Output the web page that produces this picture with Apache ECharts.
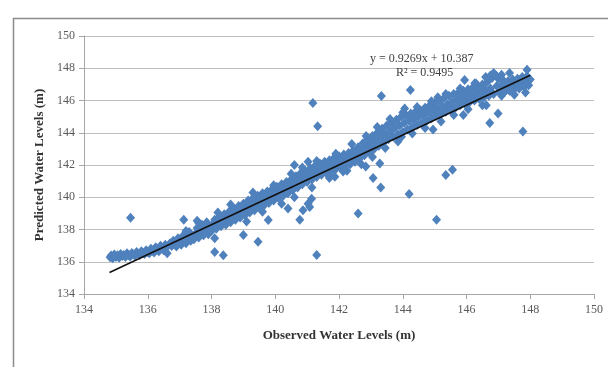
<!DOCTYPE html>
<html>
<head>
<meta charset="utf-8">
<script src="https://cdn.jsdelivr.net/npm/echarts@6/dist/echarts.min.js"></script>
<style>
  html, body { margin: 0; padding: 0; background: #fff; }
  #chart { width: 608px; height: 367px; }
</style>
</head>
<body>
<div id="chart"></div>
<script>
// observed vs predicted water levels [obs, pred]
var band1 = [[134.82,136.28],[134.85,136.38],[134.9,136.22],[134.95,136.45],[135.0,136.3],[135.05,136.4],[135.1,136.25],[135.15,136.48],[135.2,136.35],[135.25,136.42],[135.3,136.3],[135.35,136.52],[135.4,136.4],[135.45,136.33],[135.5,136.55],[135.55,136.45],[135.6,136.38],[135.65,136.6],[135.7,136.5],[135.75,136.42],[135.8,136.65],[135.85,136.55],[135.9,136.48],[135.95,136.72],[136.0,136.6],[136.05,136.52],[136.1,136.8],[136.15,136.68],[136.2,136.58],[136.25,136.9],[136.3,136.75],[136.35,136.65],[136.4,137.0],[136.45,136.85],[136.5,136.72],[136.55,137.05],[136.6,136.92],[136.7,137.15],[136.75,136.98],[136.8,137.3],[136.85,137.08],[136.9,136.95],[136.95,137.45],[137.0,137.2],[137.05,137.05],[137.1,137.6],[137.15,137.32],[137.2,137.15],[137.25,137.5],[137.3,137.85],[137.35,137.3],[137.4,137.6],[137.45,137.4],[137.5,137.75],[137.55,138.1],[137.6,137.5],[137.65,137.9],[137.7,138.3],[137.75,137.65],[137.8,138.0],[137.85,138.45],[137.9,137.7],[137.95,138.15]];
var band2 = [[138.0,137.9],[138.05,138.35],[138.1,138.6],[138.15,138.05],[138.2,138.45],[138.25,138.8],[138.3,138.2],[138.35,138.6],[138.4,138.95],[138.45,138.3],[138.5,138.75],[138.55,139.1],[138.6,138.45],[138.65,138.9],[138.7,139.3],[138.75,138.6],[138.8,139.05],[138.85,139.45],[138.9,138.75],[138.95,139.2],[139.0,139.6],[139.05,138.9],[139.1,139.35],[139.15,139.8],[139.2,139.05],[139.25,139.5],[139.3,139.95],[139.35,139.2],[139.4,139.65],[139.45,140.1],[139.5,139.35],[139.55,139.8],[139.6,140.25],[139.65,139.5],[139.7,139.95],[139.75,140.35],[139.8,139.65],[139.85,140.1],[139.9,140.5],[139.95,139.8],[140.0,140.25],[140.05,140.65],[140.1,139.95],[140.15,140.4],[140.2,140.8],[140.25,140.1],[140.3,140.55],[140.35,140.95],[140.4,140.25],[140.45,140.7],[140.5,141.1],[140.55,140.45],[140.6,140.9],[140.65,141.3],[140.7,140.6],[140.75,141.05],[140.8,141.5],[140.85,140.8],[140.9,141.25],[140.95,141.6],[141.0,140.95],[141.05,141.4],[141.1,141.8],[141.15,141.1],[141.2,141.55],[141.25,141.95],[141.3,141.25],[141.35,141.7],[141.4,142.1],[141.45,141.4],[141.5,141.85],[141.55,142.2],[141.6,141.5],[141.65,141.95],[141.7,142.3],[141.75,141.6],[141.8,142.05],[141.85,142.45],[141.9,141.75],[141.95,142.2]];
var band3 = [[142.0,142.55],[142.05,141.85],[142.1,142.3],[142.15,142.65],[142.2,141.95],[142.25,142.4],[142.3,142.75],[142.35,142.05],[142.4,142.5],[142.45,142.9],[142.5,142.2],[142.55,142.65],[142.6,143.1],[142.65,142.4],[142.7,142.85],[142.75,143.35],[142.8,142.6],[142.85,143.05],[142.9,143.6],[142.95,142.8],[143.0,143.3],[143.05,143.8],[143.1,143.0],[143.15,143.5],[143.2,144.0],[143.25,143.2],[143.3,143.7],[143.35,144.25],[143.4,143.4],[143.45,143.9],[143.5,144.45],[143.55,143.6],[143.6,144.1],[143.65,144.6],[143.7,143.75],[143.75,144.3],[143.8,144.8],[143.85,143.9],[143.9,144.45],[143.95,145.0],[144.0,144.05],[144.05,144.6],[144.1,145.1],[144.15,144.2],[144.2,144.75],[144.25,145.2],[144.3,144.35],[144.35,144.85],[144.4,145.3],[144.45,144.5],[144.5,145.0],[144.55,145.4],[144.6,144.6],[144.65,145.1],[144.7,145.55],[144.75,144.75],[144.8,145.25],[144.85,145.7],[144.9,144.9],[144.95,145.4]];
var band4 = [[145.0,145.85],[145.05,145.05],[145.1,145.5],[145.15,146.0],[145.2,145.15],[145.25,145.65],[145.3,146.15],[145.35,145.3],[145.4,145.75],[145.45,146.3],[145.5,145.45],[145.55,145.9],[145.6,146.4],[145.65,145.55],[145.7,146.05],[145.75,146.5],[145.8,145.7],[145.85,146.15],[145.9,146.6],[145.95,145.8],[146.0,146.25],[146.05,146.7],[146.1,145.9],[146.15,146.35],[146.2,146.8],[146.25,146.0],[146.3,146.45],[146.35,146.9],[146.4,146.1],[146.45,146.55],[146.5,147.0],[146.55,146.2],[146.6,146.65],[146.65,147.15],[146.7,146.3],[146.75,146.75],[146.8,147.4],[146.85,146.4],[146.9,147.6],[146.95,146.9],[147.0,147.35],[147.05,146.5],[147.1,146.95],[147.15,147.25],[147.2,146.55],[147.25,146.9],[147.3,147.2],[147.35,146.6],[147.4,147.0],[147.45,147.3],[147.5,146.7],[147.55,147.05],[147.6,147.35],[147.65,146.75],[147.7,147.1],[147.75,147.45],[147.8,146.85],[147.85,147.2],[147.9,147.5],[147.95,146.95],[148.0,147.3],[146.75,147.55],[146.85,147.7],[146.95,147.5],[147.35,147.7],[147.9,147.9],[146.7,147.3]];
// extra scattered points that roughen the band edges
var bandEdges = [[137.2,137.9],[137.55,138.55],[138.2,139.05],[138.6,139.55],[139.1,138.5],[139.3,140.3],[139.6,139.1],[139.95,140.75],[140.2,139.6],[140.5,141.45],[140.6,140.0],[140.85,141.85],[141.15,140.6],[141.3,142.25],[141.7,141.2],[141.9,142.7],[142.25,141.65],[142.4,143.3],[142.7,142.05],[142.85,143.8],[143.05,142.5],[143.2,144.35],[143.45,143.05],[143.6,144.85],[143.85,143.45],[144.0,145.25],[144.3,143.95],[144.45,145.6],[144.7,144.3],[144.9,145.95],[145.2,144.7],[145.35,146.4],[145.6,145.1],[145.8,146.75],[146.05,145.45],[146.3,147.05],[146.5,145.7],[147.1,146.3],[147.5,146.35],[147.85,146.5],[146.6,147.45],[147.1,147.6]];
var outliers = [[135.46,138.73],[136.61,136.52],[137.13,138.6],[137.6,138.4],[138.1,136.6],[138.37,136.4],[138.1,137.45],[139.0,137.66],[139.46,137.24],[139.78,138.59],[140.4,139.3],[140.77,138.6],[140.87,139.2],[141.03,139.6],[141.14,139.9],[141.08,139.4],[141.3,136.42],[140.6,142.0],[141.03,142.2],[141.33,144.4],[141.18,145.85],[141.87,141.27],[142.13,141.6],[142.6,139.0],[142.84,141.9],[143.07,141.2],[143.28,142.1],[143.31,140.6],[143.33,146.28],[144.06,145.5],[143.96,143.75],[144.2,140.2],[144.24,146.65],[144.95,144.2],[145.06,138.6],[145.1,146.2],[145.35,141.38],[145.56,141.7],[145.9,145.1],[145.94,147.27],[146.26,147.07],[146.73,144.6],[146.99,145.2],[146.62,145.7],[147.25,146.65],[147.77,144.07]];

// linear trendline from Excel
var slope = 0.9269;
var intercept = 10.387;
var r2 = 0.9495;
var trendRange = [134.8, 148.0];

var axisTicks = [134, 150, 2];

var points = band1.concat(band2, band3, band4, bandEdges, outliers);
var trend = trendRange.map(function (x) { return [x, slope * x + intercept]; });

var serif = '"Liberation Serif", "DejaVu Serif", serif';
var myChart = echarts.init(document.getElementById('chart'));
myChart.setOption({
  animation: false,
  backgroundColor: '#fff',
  grid: { left: 84, right: 14, top: 36, bottom: 73 },
  xAxis: {
    type: 'value',
    min: axisTicks[0], max: axisTicks[1], interval: axisTicks[2],
    name: 'Observed Water Levels (m)',
    nameLocation: 'middle',
    nameGap: 35,
    nameTextStyle: { fontFamily: serif, fontWeight: 'bold', fontSize: 13, color: '#333' },
    axisLine: { lineStyle: { color: '#a6a6a6', width: 1 } },
    axisTick: { show: true, inside: false, length: 5, lineStyle: { color: '#a6a6a6' } },
    axisLabel: { fontFamily: serif, fontSize: 12, color: '#595959', margin: 10 },
    splitLine: { show: false }
  },
  yAxis: {
    type: 'value',
    min: axisTicks[0], max: axisTicks[1], interval: axisTicks[2],
    name: 'Predicted Water Levels (m)',
    nameLocation: 'middle',
    nameRotate: 90,
    nameGap: 38,
    nameTextStyle: { fontFamily: serif, fontWeight: 'bold', fontSize: 13, color: '#333' },
    axisLine: { show: true, lineStyle: { color: '#a6a6a6', width: 1 } },
    axisTick: { show: true, inside: false, length: 5, lineStyle: { color: '#a6a6a6' } },
    axisLabel: { fontFamily: serif, fontSize: 12, color: '#595959', margin: 9 },
    splitLine: { show: true, lineStyle: { color: '#bfbfbf', width: 1 } }
  },
  graphic: [
    {
      type: 'rect', left: 11, top: 16, silent: true,
      shape: { width: 700, height: 500 },
      style: { fill: 'none', stroke: '#8c8c8c', lineWidth: 1.5 }
    },
    {
      type: 'text', left: 370, top: 53, z: 10,
      style: { text: 'y = ' + slope + 'x + ' + intercept, font: '12px ' + serif, fill: '#404040' }
    },
    {
      type: 'text', left: 396, top: 67, z: 10,
      style: { text: 'R\u00b2 = ' + r2, font: '12px ' + serif, fill: '#404040' }
    }
  ],
  series: [
    {
      type: 'scatter',
      symbol: 'diamond',
      symbolSize: [9, 10],
      itemStyle: { color: '#4F81BD', opacity: 1 },
      data: points
    },
    {
      type: 'line',
      data: trend,
      symbol: 'none',
      lineStyle: { color: '#111', width: 1.5 },
      z: 5
    }
  ]
});
</script>
</body>
</html>
